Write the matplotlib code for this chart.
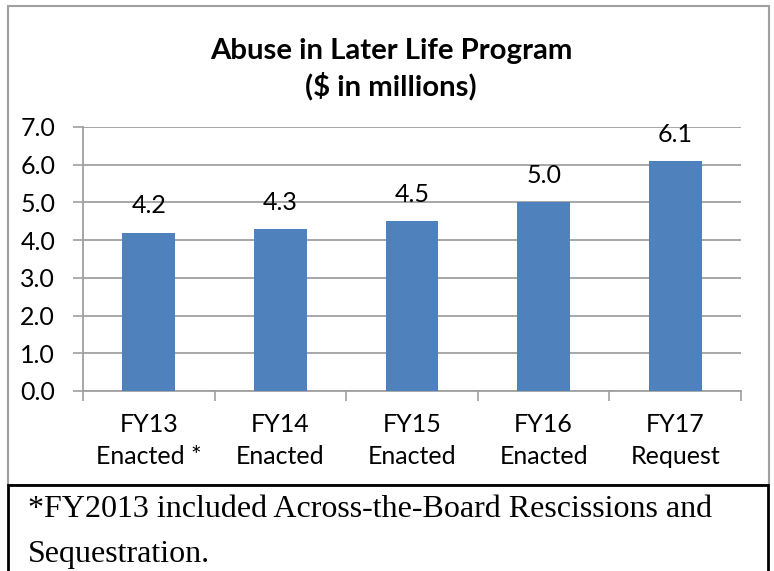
import matplotlib.pyplot as plt
from matplotlib.patches import Rectangle

categories = ['FY13\nEnacted *', 'FY14\nEnacted', 'FY15\nEnacted', 'FY16\nEnacted', 'FY17\nRequest']
values = [4.2, 4.3, 4.5, 5.0, 6.1]
title = 'Abuse in Later Life Program\n($ in millions)'
note_lines = ['*FY2013 included Across-the-Board Rescissions and', 'Sequestration.']

W, H = 774, 571
fig = plt.figure(figsize=(W / 100, H / 100), dpi=100)
plt.rcParams['font.family'] = ['Lato', 'DejaVu Sans']

# cadre du graphique (gris) et cadre de la note (noir)
fig.patches.append(Rectangle((8 / W, (H - 485) / H), 761 / W, 479 / H, transform=fig.transFigure,
                             fill=False, edgecolor='#A0A0A0', linewidth=1.5))
fig.patches.append(Rectangle((8 / W, -0.01), 760 / W, (H - 485) / H + 0.01, transform=fig.transFigure,
                             fill=False, edgecolor='black', linewidth=2))

ax = fig.add_axes([83 / W, (H - 391) / H, 658 / W, 264 / H])
x = range(len(values))
ax.bar(x, values, width=0.4, color='#4F81BD', zorder=3)
for i, v in zip(x, values):
    ax.annotate(f'{v:.1f}', (i, v), xytext=(0, 11), textcoords='offset points',
                ha='center', va='bottom', fontsize=18)

ax.set_xlim(-0.5, len(values) - 0.5)
ax.set_ylim(0, 7)
ax.set_yticks([i for i in range(8)])
ax.set_yticklabels([f'{i:.1f}' for i in range(8)], fontsize=18)
ax.set_xticks(list(x))
ax.set_xticklabels(categories, fontsize=18, linespacing=1.45)
ax.set_xticks([i - 0.5 for i in range(len(values) + 1)], minor=True)
ax.tick_params(axis='x', which='major', length=0, pad=16)
ax.tick_params(axis='x', which='minor', length=7, color='#A0A0A0', width=1.2)
ax.tick_params(axis='y', length=7, color='#A0A0A0', width=1.2, pad=13)
ax.grid(axis='y', color='#A0A0A0', linewidth=1.3, zorder=0)
for s in ['top', 'right']:
    ax.spines[s].set_visible(False)
for s in ['left', 'bottom']:
    ax.spines[s].set_color('#A0A0A0')
    ax.spines[s].set_linewidth(1.3)

fig.text(391 / W, 1 - 69 / H, title, ha='center', va='center', fontsize=21.2,
         fontweight='bold', linespacing=1.35)
for yb, line in zip([517, 562], note_lines):
    fig.text(28 / W, 1 - yb / H, line, ha='left', va='baseline', fontsize=23,
             family='Liberation Serif')

fig.savefig('out.png', dpi=100)
